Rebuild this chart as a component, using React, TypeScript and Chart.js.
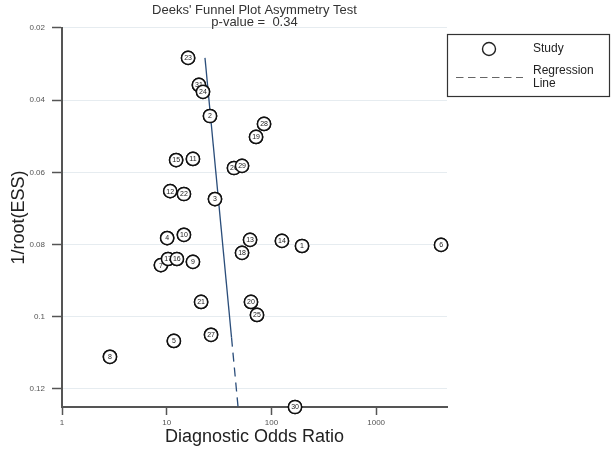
import React, { useEffect, useRef } from "react";
import { Chart, registerables } from "chart.js";

Chart.register(...registerables);

const studyLabels = ["1","2","3","4","5","6","7","8","9","10","11","12","13","14","15","16","17","18","19","20","21","22","23","24","25","26","27","28","29","30","31"];
const dorValues = [196, 25.9, 28.9, 10.1, 11.7, 4170, 8.8, 2.87, 17.8, 14.6, 17.8, 10.8, 62.5, 126, 12.3, 12.5, 10.3, 52.4, 71.3, 63.8, 21.3, 14.6, 16.0, 22.2, 72.8, 43.9, 26.5, 85.0, 52.4, 168, 20.3];
const invRootEss = [0.0804, 0.0444, 0.0674, 0.0782, 0.1067, 0.0801, 0.0857, 0.1111, 0.0848, 0.0773, 0.0563, 0.0652, 0.0787, 0.0790, 0.0566, 0.0840, 0.0840, 0.0823, 0.0502, 0.0959, 0.0959, 0.0660, 0.0283, 0.0377, 0.0995, 0.0588, 0.1050, 0.0466, 0.0582, 0.1250, 0.0358];

const regressionDor = [23.2, 41.6, 48.0];
const regressionY = [0.0283, 0.1058, 0.125];

const xTickValues = [1, 10, 100, 1000];
const xTickLabels = ["1", "10", "100", "1000"];
const yTickValues = [0.02, 0.04, 0.06, 0.08, 0.1, 0.12];
const yTickLabels = ["0.02", "0.04", "0.06", "0.08", "0.1", "0.12"];

const titleLines = ["Deeks' Funnel Plot Asymmetry Test", "p-value =  0.34"];
const legendStudy = "Study";
const legendLine = ["Regression", "Line"];

const FONT = "'Liberation Sans', Arial, sans-serif";

const pointLabelPlugin = {
  id: "pointLabels",
  afterDatasetsDraw(chart: any) {
    const meta = chart.getDatasetMeta(1);
    if (!meta) return;
    const ctx = chart.ctx;
    const order = studyLabels.map((_, i) => i).sort((a, b) => dorValues[a] - dorValues[b]);
    ctx.save();
    for (const i of order) {
      const el = meta.data[i];
      if (!el) continue;
      ctx.beginPath();
      ctx.arc(el.x, el.y, 6.6, 0, Math.PI * 2);
      ctx.fillStyle = "#ffffff";
      ctx.fill();
      ctx.lineWidth = 1.5;
      ctx.strokeStyle = "#111111";
      ctx.stroke();
      ctx.fillStyle = "#222222";
      ctx.font = `7px ${FONT}`;
      ctx.textAlign = "center";
      ctx.textBaseline = "middle";
      ctx.fillText(studyLabels[i], el.x, el.y + 0.5);
    }
    ctx.restore();
  },
};

const legendPlugin = {
  id: "customLegend",
  afterDraw(chart: any) {
    const ctx = chart.ctx;
    ctx.save();
    ctx.strokeStyle = "#333333";
    ctx.lineWidth = 1.2;
    ctx.strokeRect(447.5, 34.5, 162, 62);
    ctx.beginPath();
    ctx.arc(489, 49, 6.5, 0, Math.PI * 2);
    ctx.lineWidth = 1.4;
    ctx.strokeStyle = "#222222";
    ctx.stroke();
    ctx.beginPath();
    ctx.setLineDash([7.5, 4.5]);
    ctx.lineWidth = 1;
    ctx.strokeStyle = "#666666";
    ctx.moveTo(456, 77.5);
    ctx.lineTo(523, 77.5);
    ctx.stroke();
    ctx.setLineDash([]);
    ctx.fillStyle = "#222222";
    ctx.font = `12px ${FONT}`;
    ctx.textAlign = "left";
    ctx.textBaseline = "middle";
    ctx.fillText(legendStudy, 533, 49);
    ctx.fillText(legendLine[0], 533, 71);
    ctx.fillText(legendLine[1], 533, 84);
    ctx.restore();
  },
};

export default function App() {
  const ref = useRef<HTMLCanvasElement | null>(null);
  useEffect(() => {
    if (!ref.current) return;
    const chart = new Chart(ref.current, {
      type: "scatter",
      data: {
        datasets: [
          {
            type: "line",
            label: "Regression Line",
            data: regressionDor.map((x, i) => ({ x, y: regressionY[i] })),
            borderColor: "#2a4d7a",
            borderWidth: 1.3,
            pointRadius: 0,
            fill: false,
            order: 1,
            segment: {
              borderDash: (c: any) => (c.p0DataIndex === 1 ? [9, 6] : []),
            },
          } as any,
          {
            type: "scatter",
            label: "Study",
            data: dorValues.map((x, i) => ({ x, y: invRootEss[i] })),
            pointRadius: 6.6,
            pointBackgroundColor: "#ffffff",
            pointBorderColor: "#111111",
            pointBorderWidth: 1.5,
            clip: false,
            order: 0,
          } as any,
        ],
      },
      options: {
        responsive: false,
        animation: false,
        layout: { padding: { left: 0, right: 165, top: 0, bottom: 0 } },
        plugins: {
          legend: { display: false },
          tooltip: { enabled: false },
          title: {
            display: true,
            text: titleLines,
            fullSize: false,
            color: "#333333",
            font: { family: FONT, size: 13, weight: "normal", lineHeight: 0.92 },
            padding: { top: 4, bottom: 0 },
          },
        },
        scales: {
          x: {
            type: "logarithmic",
            min: 1,
            max: 4750,
            afterBuildTicks: (s: any) => {
              s.ticks = xTickValues.map((v) => ({ value: v }));
            },
            afterFit: (s: any) => {
              s.height = 42;
            },
            ticks: {
              autoSkip: false,
              maxRotation: 0,
              padding: 3,
              color: "#555555",
              font: { family: FONT, size: 8 },
              callback: (_v: any, i: number) => xTickLabels[i],
            },
            grid: {
              drawOnChartArea: false,
              drawTicks: true,
              tickLength: 8,
              tickColor: "#555555",
              tickWidth: 1.5,
            },
            border: { color: "#555555", width: 2 },
            title: {
              display: true,
              text: "Diagnostic Odds Ratio",
              color: "#222222",
              font: { family: FONT, size: 18 },
              padding: { top: 0, bottom: 1 },
            },
          },
          y: {
            type: "linear",
            reverse: true,
            min: 0.02,
            max: 0.125,
            afterBuildTicks: (s: any) => {
              s.ticks = yTickValues.map((v) => ({ value: v }));
            },
            afterFit: (s: any) => {
              s.width = 62;
            },
            ticks: {
              autoSkip: false,
              padding: 7,
              color: "#555555",
              font: { family: FONT, size: 8 },
              callback: (_v: any, i: number) => yTickLabels[i],
            },
            grid: {
              color: "#e6ecf0",
              lineWidth: 1,
              drawTicks: true,
              tickLength: 10,
              tickColor: "#555555",
              tickWidth: 1.5,
            },
            border: { color: "#555555", width: 2 },
            title: {
              display: true,
              text: "1/root(ESS)",
              color: "#222222",
              font: { family: FONT, size: 18 },
              padding: { top: 8, bottom: 0 },
            },
          },
        },
      },
      plugins: [pointLabelPlugin, legendPlugin],
    } as any);
    return () => chart.destroy();
  }, []);
  return (
    <div style={{ position: "absolute", left: 0, top: 0, width: 612, height: 449, background: "#ffffff" }}>
      <canvas ref={ref} width={612} height={449} />
    </div>
  );
}
